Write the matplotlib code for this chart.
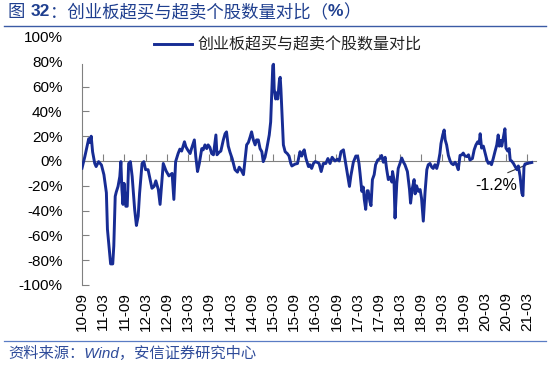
import matplotlib
matplotlib.use("Agg")
import matplotlib.pyplot as plt
from matplotlib.lines import Line2D

plt.rcParams['font.family'] = ['Liberation Sans', 'Noto Sans CJK SC', 'DejaVu Sans']

# months elapsed since 2010-09
t_months = [
    0, 0.8, 1.5, 1.9, 2.2, 2.6, 3.0, 3.6, 4.0, 4.7,
    5.5, 6.2, 6.9, 7.2, 7.8, 8.1, 8.7, 9.0, 9.4, 9.7,
    10.2, 10.7, 11.0, 11.3, 11.6, 11.9, 12.4, 12.8, 13.2, 13.7,
    14.2, 14.9, 15.4, 15.9, 16.3, 17.0, 17.5, 18.0, 18.7, 19.2,
    19.8, 20.4, 20.9, 21.6, 22.1, 22.5, 23.0, 23.8, 24.6, 25.5,
    26.0, 26.5, 27.2, 27.7, 28.2, 29.0, 29.4, 29.9, 30.6, 31.0,
    31.8, 32.2, 32.7, 33.2, 33.9, 34.3, 34.8, 35.3, 35.7, 36.2,
    36.7, 37.2, 37.9, 38.2, 38.8, 39.3, 40.0, 40.5, 40.9, 41.4,
    41.9, 42.5, 43.3, 44.0, 44.5, 45.0, 45.7, 46.1, 46.6, 47.1,
    47.6, 48.0, 48.5, 49.0, 49.4, 49.9, 50.4, 50.9, 51.3, 51.8,
    52.3, 53.0, 53.4, 53.7, 54.0, 54.2, 54.4, 54.8, 55.1, 55.4,
    55.9, 56.1, 56.3, 56.6, 57.0, 57.5, 58.1, 58.6, 59.1, 59.4,
    60.3, 61.0, 61.7, 62.2, 62.6, 62.9, 63.4, 64.1, 64.5, 65.0,
    65.5, 66.0, 66.5, 67.1, 67.7, 68.3, 69.0, 69.6, 70.2, 70.8,
    71.6, 72.3, 72.8, 73.3, 74.0, 74.4, 74.9, 75.3, 75.7, 76.1,
    76.8, 77.5, 78.0, 78.4, 78.7, 79.2, 79.6, 79.9, 80.3, 80.7,
    81.0, 81.5, 81.8, 82.2, 82.7, 83.1, 83.7, 84.3, 84.8, 85.3,
    85.8, 86.2, 86.7, 87.2, 87.7, 87.9, 88.3, 88.6, 89.1, 89.5,
    90.0, 90.5, 91.0, 91.4, 92.1, 92.7, 93.0, 93.5, 94.0, 94.3,
    94.7, 95.2, 95.7, 96.1, 96.6, 97.1, 97.6, 98.0, 98.5, 99.0,
    99.4, 99.9, 100.4, 100.8, 101.3, 101.6, 102.1, 102.5, 102.8, 103.2,
    103.7, 104.2, 104.6, 105.1, 105.6, 106.0, 106.5, 107.0, 107.5, 107.9,
    108.4, 108.9, 109.4, 109.8, 110.5, 111.0, 111.5, 112.0, 112.4, 112.7,
    113.1, 113.6, 114.1, 114.6, 115.0, 115.5, 115.9, 116.4, 116.9, 117.4,
    117.8, 118.1, 118.5, 118.8, 119.2, 119.7, 120.0, 120.5, 120.9, 121.2,
    121.6, 122.1, 122.6, 123.1, 123.5, 124.0, 124.5, 124.8, 125.1, 125.4,
    125.9, 126.4, 126.8, 127.3,
]

ratio_pct = [
    -5.8, 3.5, 12.8, 18, 15, 20, 7.4, -1.9, -4.5, -0.5,
    -3.2, -11, -25.6, -55, -74, -83, -83, -68.5, -28.5, -25,
    -20.5, -12.5, -0.5, -23, -35, -18, -36.5, -36.5, -2, -0.5,
    -12.5, -39, -52, -44.5, -26, -2, -0.5, -7, -7, -14,
    -22, -20.5, -16, -23, -35, -20, -2, -8, -12, -10,
    -31, -0.5, 6, 9.6, 8, 15.5, 11.5, 9, 6, 10,
    17, 3.6, -8.5, -2, 10, 9, 13, 10, 13, 11,
    6, 5, 21, 5, 7, 8, 17, 22, 23.5, 12,
    7, 2, -7, -9, -5, -7, -11, 0, 13, 15,
    19.5, 23.5, 17, 13, 17, 17, 10, 7.5, -0.5, 3,
    10, 21, 31.5, 55, 77, 78, 58, 50, 55, 50,
    66, 67.5, 58, 39.5, 13, 7.5, 6, 4, -2, -4,
    -2.5, -2, 7.5, 4, 7.5, 9, 2, -4.5, -3, -6,
    -2, -0.5, -1, -2, -8.5, -2, -2, 2, -2, 3,
    0, 1.5, 0, 7.5, 9, 2, -7, -14, -20.5, -12,
    -1, 4, 4, -2, -10, -24.5, -21, -31, -39, -24,
    -24, -33, -36, -15, -11, -3, 0.8, 2, 4.5, -1,
    3, -6, -15, -13, -17, -8.5, -15, -46, -18, -6,
    -2, 2.4, -1, -3, -8.5, -23, -34, -22, -15, -26.5,
    -20, -24.5, -23, -30, -48.5, -25, -7, -3, -2, -5,
    -6, -3, -6, -2, 6, 14, 21, 25, 17, 13,
    4.5, 0, -2, -3, -1, -3, -7, 4.5, 5, 6.4,
    4, 3.6, 5, 0.8, 2, 9, 13, 15.5, 14, 22,
    10.4, 12, 6.4, 0.8, -1.9, -1, -3, 2, 7.7, 13,
    21, 12, 16.6, 12, 18, 26, 10.4, 8, 10, 0.8,
    0, -1.9, -4.5, -7, -4, -12.5, -26, -28, -4.5, -2.4,
    -2, -1.6, -1.5, -1.2,
]

tick_months = list(range(0, 127, 6))
tick_labels = ['10-09', '11-03', '11-09', '12-03', '12-09', '13-03', '13-09',
               '14-03', '14-09', '15-03', '15-09', '16-03', '16-09', '17-03',
               '17-09', '18-03', '18-09', '19-03', '19-09', '20-03', '20-09',
               '21-03']
y_ticks = list(range(-100, 101, 20))
series_name = '创业板超买与超卖个股数量对比'
last_label = '-1.2%'

LINE_C = '#172C94'
AX_C = '#808080'
TITLE_C = '#1F3F8F'

fig = plt.figure(figsize=(5.5, 3.72), dpi=100)
ax = fig.add_axes([82/550, 1-285/372, 454/550, 248/372])

ax.plot(t_months, ratio_pct, color=LINE_C, lw=2.1, label=series_name, zorder=4)

ax.set_xlim(0, 128.5)
ax.set_ylim(-100, 100)

for s in ['top', 'right']:
    ax.spines[s].set_visible(False)
ax.spines['left'].set_color(AX_C)
ax.spines['left'].set_bounds(-100, 78)
ax.spines['bottom'].set_position(('data', 0))
ax.spines['bottom'].set_color(AX_C)

ax.set_yticks(y_ticks)
ax.set_yticklabels([f'{v}%' for v in y_ticks])
ax.tick_params(axis='y', direction='in', length=5, color=AX_C, labelsize=11, pad=14)
for tk in ax.yaxis.get_major_ticks()[-2:]:
    tk.tick1line.set_visible(False)

ax.set_xticks(tick_months)
ax.tick_params(axis='x', direction='in', length=5, color=AX_C, labelbottom=False)

sec = ax.secondary_xaxis(0.0)
sec.set_xticks(tick_months)
sec.set_xticklabels(tick_labels, rotation=90, fontsize=11)
sec.tick_params(length=0, pad=5)
sec.spines['bottom'].set_visible(False)

ax.legend(loc='center left', bbox_to_anchor=(0.14, 0.968), frameon=False,
          fontsize=11.5, handlelength=2.4, handletextpad=0.35, borderpad=0,
          labelcolor='#222222')

ax.annotate(last_label, xy=(t_months[-1], ratio_pct[-1]), xytext=(117.2, -19.5),
            textcoords='data', ha='center', va='center', fontsize=11.5,
            arrowprops=dict(arrowstyle='-', color='#333333', lw=0.8,
                            relpos=(0.5, 1.0), shrinkA=4, shrinkB=1))

# Title pieces
fig.canvas.draw()
r = fig.canvas.get_renderer()
TY = 1 - 12/372
t1 = fig.text(8/550, TY, '图 ', fontsize=12.5, color=TITLE_C, va='center', ha='left')
def place_after(prev, txt, **kw):
    bb = prev.get_window_extent(renderer=r)
    x0 = bb.x1 / fig.bbox.width
    return fig.text(x0, TY, txt, va='center', ha='left', color=TITLE_C,
                    fontsize=12.5, **kw)
t2 = place_after(t1, '32', fontweight='bold')
t3 = place_after(t2, '：创业板超买与超卖个股数量对比（')
t4 = place_after(t3, '%', fontweight='bold')
t5 = place_after(t4, '）')

fig.add_artist(Line2D([4/550, 546/550], [1-25.5/372]*2, color='#3B5BA5', lw=1))
fig.add_artist(Line2D([4/550, 546/550], [1-340.5/372]*2, color='#5A7CC4', lw=0.9))

fig.text(8/550, 1-353/372, '资料来源：Wind，安信证券研究中心', fontsize=11,
         style='italic', color='#2F4C9A', va='center', ha='left')

fig.savefig('out.png', dpi=100)
